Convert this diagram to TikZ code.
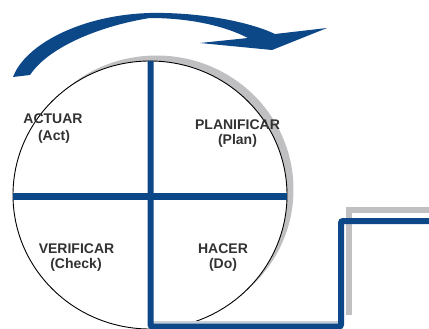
\documentclass[tikz,border=0pt]{standalone}
\usepackage{fontspec}
\setmainfont{Liberation Sans}
\definecolor{pdcablue}{RGB}{12,72,136}
\definecolor{shadowgray}{RGB}{192,192,194}
\definecolor{lightgray2}{RGB}{200,206,214}
\definecolor{textgray}{RGB}{50,50,50}
\tikzset{
  bluebar/.style={draw=pdcablue, line width=6pt, line cap=butt, line join=miter},
  graybar/.style={draw=shadowgray, line width=5.5pt, line cap=butt},
  lbl/.style={font=\fontsize{14}{16}\selectfont\bfseries, text=textgray, anchor=base, inner sep=0pt}
}
\begin{document}
\begin{tikzpicture}[x=1pt,y=-1pt]
\useasboundingbox (0,0) rectangle (429,329);
% circle shadow
\fill[shadowgray] (156.5,189.5) ellipse [x radius=137pt, y radius=134pt];
\fill[white] (150,195) ellipse [x radius=137pt, y radius=134pt];
\draw[black, line width=0.9pt] (150,195) ellipse [x radius=137pt, y radius=134pt];
% step shadow
\draw[graybar] (349,315) -- (349,210) -- (430,210);
\draw[draw=lightgray2, line width=4pt] (153,322.5) -- (338,322.5);
% cross and step
\draw[bluebar, line width=6.5pt] (13.2,196.5) -- (286.8,196.5);
\draw[bluebar, rounded corners=2pt] (150.5,61) -- (150.5,326.5) -- (341,326.5) -- (341,221) -- (430,221);
% curved arrow
\fill[pdcablue] (13,77) .. controls (25,45) and (80,15) .. (150,13)
  .. controls (200,12) and (250,22) .. (275,34) -- (327,28) -- (272,50) -- (200,43) -- (248,38)
  .. controls (225,26) and (190,18) .. (150,18)
  .. controls (105,25) and (50,45) .. (30,75) -- cycle;
% labels
\node[lbl] (act) at (53,124) {ACTUAR};
\node[lbl] (acten) at (54,140.5) {(Act)};
\node[lbl] (plan) at (237.5,129) {PLANIFICAR};
\node[lbl] (planen) at (237.5,144.5) {(Plan)};
\node[lbl] (ver) at (76.5,253) {VERIFICAR};
\node[lbl] (veren) at (76,268.5) {(Check)};
\node[lbl] (hac) at (223,253) {HACER};
\node[lbl] (hacen) at (223,268.5) {(Do)};
\end{tikzpicture}
\end{document}
